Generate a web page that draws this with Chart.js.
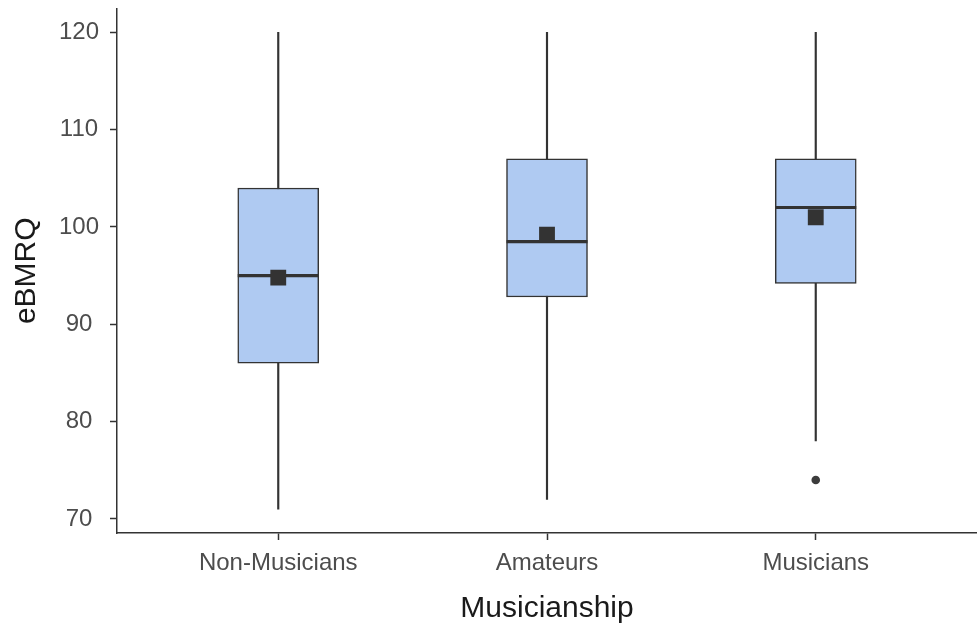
<!DOCTYPE html>
<html>
<head>
<meta charset="utf-8">
<script src="https://cdn.jsdelivr.net/npm/chart.js@4/dist/chart.umd.min.js"></script>
<style>
  html, body { margin: 0; padding: 0; background: #fff; }
  #wrap { width: 977px; height: 624px; }
</style>
</head>
<body>
<div id="wrap"><canvas id="chart" width="977" height="624"></canvas></div>
<script>
// Boxplot eBMRQ por grupo — cajas con barras flotantes, mediana/media como puntos.
const CATEGORIES = ["Non-Musicians", "Amateurs", "Musicians"];
const WHISKER_LOW = [71, 72, 78];
const Q1 = [86, 92.8, 94.2];
const MEDIAN = [95, 98.5, 102];
const Q3 = [104, 107, 107];
const WHISKER_HIGH = [120, 120, 120];
const MEAN = [94.8, 99.2, 101];
const OUTLIERS = [[], [], [74]];
const Y_TICKS = [70, 80, 90, 100, 110, 120];

const INK = "#333333";
const FILL = "#afcaf2";
const FONT = "'Liberation Sans', Arial, sans-serif";

const pos = (i) => i + 1;

const whiskers = CATEGORIES.map((c, i) => ({ x: pos(i), y: [WHISKER_LOW[i], WHISKER_HIGH[i]] }));
const boxes = CATEGORIES.map((c, i) => ({ x: pos(i), y: [Q1[i], Q3[i]] }));
const medians = CATEGORIES.map((c, i) => ({ x: pos(i), y: MEDIAN[i] }));
const means = CATEGORIES.map((c, i) => ({ x: pos(i), y: MEAN[i] }));
const outliers = [];
OUTLIERS.forEach((list, i) => list.forEach((v) => outliers.push({ x: pos(i), y: v })));

const axisCommon = {
  border: { display: true, color: INK, width: 1.5 },
  grid: { display: true, offset: false, drawOnChartArea: false, drawTicks: true, tickLength: 7, tickColor: INK, tickWidth: 1.5 },
};

new Chart(document.getElementById("chart"), {
  type: "bar",
  data: {
    datasets: [
      { type: "bar", data: whiskers, backgroundColor: INK, borderWidth: 0, barThickness: 1.5, grouped: false, order: 4 },
      { type: "bar", data: boxes, backgroundColor: FILL, borderColor: INK, borderWidth: 1.5, borderSkipped: false, barThickness: 81, grouped: false, order: 3 },
      { type: "line", data: medians, showLine: false, pointStyle: "line", pointRadius: 40.5, pointBorderWidth: 3.2, pointBorderColor: INK, order: 2 },
      { type: "line", data: means, showLine: false, pointStyle: "rect", pointRadius: 11.2, pointBorderWidth: 0, pointBackgroundColor: INK, order: 1 },
      { type: "line", data: outliers, showLine: false, pointStyle: "circle", pointRadius: 4.3, pointBorderWidth: 0, pointBackgroundColor: "#3c3c3c", order: 1 },
    ],
  },
  options: {
    responsive: false,
    animation: false,
    events: [],
    layout: { autoPadding: false, padding: { top: 8.5, right: 0, bottom: 0, left: 0 } },
    plugins: { legend: { display: false }, tooltip: { enabled: false } },
    scales: {
      x: {
        ...axisCommon,
        type: "linear",
        min: 0.4,
        max: 3.6,
        offset: false,
        afterBuildTicks: (s) => { s.ticks = CATEGORIES.map((c, i) => ({ value: pos(i) })); },
        afterFit: (s) => { s.height = 91; s.paddingLeft = 0; s.paddingRight = 0; },
        ticks: {
          autoSkip: false, maxRotation: 0, padding: 9,
          color: "#4d4d4d", font: { family: FONT, size: 24 },
          callback: (v) => CATEGORIES[v - 1] ?? "",
        },
        title: { display: true, text: "Musicianship", color: "#1a1a1a", font: { family: FONT, size: 30, lineHeight: 1 }, padding: { top: 0, bottom: 0 } },
      },
      y: {
        ...axisCommon,
        type: "linear",
        min: 68.55,
        max: 122.45,
        beginAtZero: false,
        afterBuildTicks: (s) => { s.ticks = Y_TICKS.map((v) => ({ value: v })); },
        afterFit: (s) => { s.width = 117; s.paddingTop = 0; s.paddingBottom = 0; },
        ticks: {
          padding: 11, crossAlign: "center",
          color: "#4d4d4d", font: { family: FONT, size: 24 },
        },
        title: { display: true, text: "eBMRQ", color: "#1a1a1a", font: { family: FONT, size: 30, lineHeight: 1 }, padding: { top: 12, bottom: 0 } },
      },
    },
  },
});
</script>
</body>
</html>
